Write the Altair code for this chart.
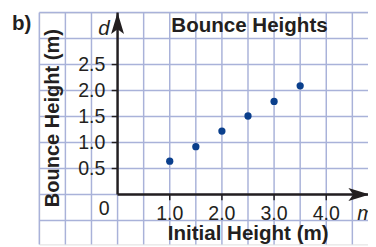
import altair as alt
import pandas as pd

# ---- data ----
initial_height = [1.0, 1.5, 2.0, 2.5, 3.0, 3.5]
bounce_height = [0.64, 0.92, 1.22, 1.51, 1.79, 2.09]

x_tick_values = [1.0, 2.0, 3.0, 4.0]
x_tick_labels = ["1.0", "2.0", "3.0", "4.0"]
y_tick_values = [0.5, 1.0, 1.5, 2.0, 2.5]
y_tick_labels = ["0.5", "1.0", "1.5", "2.0", "2.5"]

x_grid = [-1.5, -1.0, -0.5, 0.0, 0.5, 1.0, 1.5, 2.0, 2.5, 3.0, 3.5, 4.0, 4.5]
y_grid = [-0.5, 0.0, 0.5, 1.0, 1.5, 2.0, 2.5, 3.0, 3.5]

part_label = "b)"
chart_title = "Bounce Heights"
x_title = "Initial Height (m)"
y_title = "Bounce Height (m)"
x_var = "m"
y_var = "d"

# ---- style ----
INK = "#231f20"
GRID = "#a9b2d9"
DOT = "#0a3f8c"
FONT = "Liberation Sans"

x_scale = alt.Scale(domain=[-1.5, 4.8], nice=False, zero=False)
y_scale = alt.Scale(domain=[-0.96, 3.5], nice=False, zero=False)

pts = pd.DataFrame({"h": initial_height, "d": bounce_height})
xt = pd.DataFrame({"v": x_tick_values, "label": x_tick_labels})
yt = pd.DataFrame({"v": y_tick_values, "label": y_tick_labels})
xg = pd.DataFrame({"v": x_grid})
yg = pd.DataFrame({"v": y_grid})
one = pd.DataFrame({"k": [0]})


def XF(field):
    return alt.X(field, scale=x_scale, axis=None)


def YF(field):
    return alt.Y(field, scale=y_scale, axis=None)


def X0():
    return alt.XDatum(0, scale=x_scale, axis=None)


def Y0():
    return alt.YDatum(0, scale=y_scale, axis=None)


# grid
x_gridlines = alt.Chart(xg).mark_rule(color=GRID, strokeWidth=1.5).encode(x=XF("v:Q"))
y_gridlines = alt.Chart(yg).mark_rule(color=GRID, strokeWidth=1.5).encode(y=YF("v:Q"))

points = alt.Chart(pts).mark_circle(size=55, color=DOT, opacity=1).encode(
    x=XF("h:Q"), y=YF("d:Q")
)

# axis lines
y_line = alt.Chart(one).mark_rule(color=INK, strokeWidth=2.5).encode(
    x=X0(), y=Y0(), y2=alt.value(0)
)
x_line = alt.Chart(one).mark_rule(color=INK, strokeWidth=2.5).encode(
    x=X0(), x2=alt.value(336), y=Y0()
)

up_arrow = "M0,0 L0.6,2 L0,1.55 L-0.6,2 Z"
right_arrow = "M0,0 L-2,-0.6 L-1.55,0 L-2,0.6 Z"
y_head = alt.Chart(one).mark_point(shape=up_arrow, size=484, filled=True, color=INK,
                                   opacity=1, strokeWidth=0).encode(x=X0(), y=alt.value(0))
x_head = alt.Chart(one).mark_point(shape=right_arrow, size=484, filled=True, color=INK,
                                   opacity=1, strokeWidth=0).encode(x=alt.value(338), y=Y0())

# ticks
x_ticks = alt.Chart(xt).mark_rule(color=INK, strokeWidth=1.5, y2Offset=6).encode(
    x=XF("v:Q"), y=Y0(), y2=alt.Y2Datum(0)
)
y_ticks = alt.Chart(yt).mark_rule(color=INK, strokeWidth=1.5, x2Offset=-6).encode(
    y=YF("v:Q"), x=X0(), x2=alt.X2Datum(0)
)

# tick labels
x_labels = alt.Chart(xt).mark_text(font=FONT, fontSize=20, color=INK,
                                   baseline="alphabetic", dy=26).encode(
    x=XF("v:Q"), y=Y0(), text="label:N"
)
y_labels = alt.Chart(yt).mark_text(font=FONT, fontSize=20, color=INK, align="right",
                                   baseline="middle", dx=-12.5, dy=1).encode(
    y=YF("v:Q"), x=X0(), text="label:N"
)
zero_label = alt.Chart(one).mark_text(font=FONT, fontSize=20, color=INK, align="right",
                                      baseline="alphabetic", dx=-8, dy=21).encode(
    x=X0(), y=Y0(), text=alt.value("0")
)

# variable names
d_label = alt.Chart(one).mark_text(font=FONT, fontSize=21, fontStyle="italic", color=INK,
                                   align="right", baseline="alphabetic", dx=-8).encode(
    x=X0(), y=alt.value(22.5), text=alt.value(y_var)
)
m_label = alt.Chart(one).mark_text(font=FONT, fontSize=21, fontStyle="italic", color=INK,
                                   align="left", baseline="alphabetic", dy=26).encode(
    x=alt.value(325), y=Y0(), text=alt.value(x_var)
)

# titles
title_text = alt.Chart(one).mark_text(font=FONT, fontSize=21, fontWeight="bold", color=INK,
                                      align="left", baseline="alphabetic").encode(
    x=alt.value(135), y=alt.value(20), text=alt.value(chart_title)
)
x_title_text = alt.Chart(one).mark_text(font=FONT, fontSize=21, fontWeight="bold", color=INK,
                                        align="center", baseline="alphabetic").encode(
    x=alt.value(213.5), y=alt.value(232.5), text=alt.value(x_title)
)
y_title_text = alt.Chart(one).mark_text(font=FONT, fontSize=20.5, fontWeight="bold", color=INK,
                                        align="center", baseline="alphabetic", angle=270).encode(
    x=alt.value(20.5), y=alt.value(108), text=alt.value(y_title)
)
part_text = alt.Chart(one).mark_text(font=FONT, fontSize=21, fontWeight="bold", color=INK,
                                     align="left", baseline="alphabetic").encode(
    x=alt.value(-28), y=alt.value(17.5), text=alt.value(part_label)
)

chart = alt.layer(
    x_gridlines, y_gridlines, points, x_line, y_line, x_ticks, y_ticks, x_head, y_head,
    x_labels, y_labels, zero_label, d_label, m_label,
    title_text, x_title_text, y_title_text, part_text,
).properties(
    width=336, height=237,
    autosize=alt.AutoSizeParams(type="none"),
    padding={"left": 32, "top": 2, "right": 0, "bottom": 0},
).configure_view(stroke=None).configure(background="white")

chart.save("out.html", embed_options={"renderer": "svg", "actions": False})
